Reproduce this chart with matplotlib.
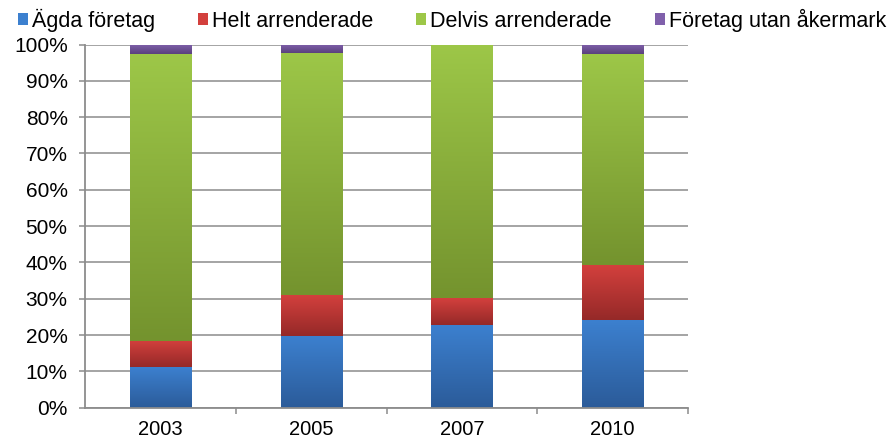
import numpy as np
import matplotlib.pyplot as plt
from matplotlib.colors import LinearSegmentedColormap
from matplotlib.patches import Rectangle
from matplotlib.ticker import PercentFormatter, FixedLocator

plt.rcParams['font.family'] = ['Liberation Sans', 'DejaVu Sans']

# Data (shares)
years = ['2003', '2005', '2007', '2010']
agda = [0.112, 0.198, 0.228, 0.242]
helt = [0.072, 0.112, 0.074, 0.151]
delvis = [0.790, 0.667, 0.698, 0.581]
utan = [0.026, 0.023, 0.000, 0.026]

series = [
    ('Ägda företag', agda, '#3C80CF', '#2B5B99'),
    ('Helt arrenderade', helt, '#D3403D', '#952928'),
    ('Delvis arrenderade', delvis, '#9DC748', '#74932E'),
    ('Företag utan åkermark', utan, '#8060AB', '#5A417D'),
]

grid_col = '#8C8C8C'

fig = plt.figure(figsize=(8.88, 4.43), dpi=100)
ax = fig.add_axes([85 / 888, 1 - 407.7 / 443, (688 - 85) / 888, (407.7 - 44.5) / 443])

x = np.arange(len(years))
width = 0.405
bottom = np.zeros(len(years))
grad = np.linspace(0, 1, 256).reshape(-1, 1)
handles = []
for name, vals, top_c, bot_c in series:
    bars = ax.bar(x, vals, width, bottom=bottom, color=top_c, linewidth=0, zorder=3)
    cmap = LinearSegmentedColormap.from_list(name, [bot_c, top_c])
    for rect in bars:
        h = rect.get_height()
        if h <= 0:
            continue
        x0, y0, w = rect.get_x(), rect.get_y(), rect.get_width()
        ax.imshow(grad, cmap=cmap, origin='lower', aspect='auto',
                  extent=(x0, x0 + w, y0, y0 + h), zorder=4, interpolation='bilinear')
    bottom += np.array(vals)
    handles.append(Rectangle((0, 0), 1, 1, facecolor=top_c, edgecolor='none'))

ax.set_xlim(-0.5, len(years) - 0.5)
ax.set_ylim(0, 1)

ax.yaxis.set_major_locator(FixedLocator(np.linspace(0, 1, 11)))
ax.yaxis.set_major_formatter(PercentFormatter(1.0, decimals=0))
ax.grid(axis='y', color=grid_col, linewidth=1.1, zorder=1)
ax.set_axisbelow(True)

ax.set_xticks(x)
ax.set_xticklabels(years)
ax.set_xticks(np.arange(0.5, len(years), 1.0), minor=True)
ax.tick_params(axis='x', which='major', length=0, pad=9, labelsize=14.5)
ax.tick_params(axis='x', which='minor', length=4, width=1.1, color=grid_col, direction='out')
ax.tick_params(axis='y', length=4.5, width=1.1, color=grid_col, pad=8, labelsize=15)

for s in ['top', 'right']:
    ax.spines[s].set_visible(False)
for s in ['left', 'bottom']:
    ax.spines[s].set_color(grid_col)
    ax.spines[s].set_linewidth(1.3)
    ax.spines[s].set_zorder(5)

fig.legend(handles, [s[0] for s in series], loc='center left',
           bbox_to_anchor=(18 / 888, 1 - 20 / 443), ncol=4, frameon=False,
           fontsize=15.5, handlelength=0.45, handleheight=0.45,
           handletextpad=0.2, columnspacing=2.0, borderpad=0, borderaxespad=0)

fig.savefig('out.png', dpi=100)
